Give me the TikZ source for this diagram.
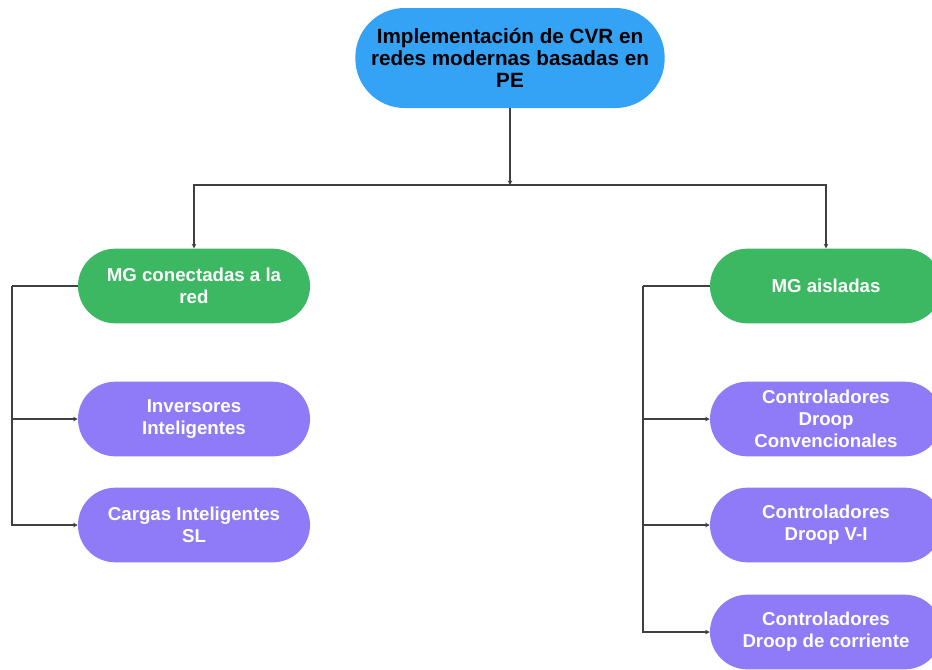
\documentclass[tikz,border=0pt]{standalone}
\usepackage{fontspec}
\setmainfont{Liberation Sans}
\usetikzlibrary{calc, positioning}
\usetikzlibrary{arrows.meta}
\definecolor{topblue}{HTML}{35A3F5}
\definecolor{mggreen}{HTML}{3BB861}
\definecolor{leafpurple}{HTML}{8F7AF8}
\definecolor{linegray}{HTML}{404040}

\begin{document}
\begin{tikzpicture}[x=0.75pt,y=-0.75pt,
  box/.style={rectangle, rounded corners=28pt, minimum width=174pt, minimum height=56pt,
    align=center, inner sep=2pt, text=white, font=\bfseries\fontsize{14}{16.5}\selectfont},
  link/.style={draw=linegray, line width=0.8pt, -{Stealth[length=3.5pt,width=3.5pt]}},
  plain/.style={draw=linegray, line width=0.8pt}]
\useasboundingbox (0,0) rectangle (932,669);
\def\lbar{12}
\def\rbar{643}

% main topic
\node[box, fill=topblue, text=black, minimum width=232pt, minimum height=75pt,
  rounded corners=37pt, font=\bfseries\fontsize{15.5}{16.2}\selectfont] (top) at (510,58)
  {Implementación de CVR en\\redes modernas basadas en\\PE};

% the two kinds of microgrid
\node[box, fill=mggreen] (mgred) at (194,286) {MG conectadas a la\\red};
\node[box, fill=mggreen] (mgais) at (826,286) {MG aisladas};

% left leaves
\node[box, fill=leafpurple] (inv) at (194,419) {Inversores\\Inteligentes};
\node[box, fill=leafpurple] (cargas) at (194,525) {Cargas Inteligentes\\SL};

% right leaves
\node[box, fill=leafpurple] (conv) at (826,419) {Controladores\\Droop\\Convencionales};
\node[box, fill=leafpurple] (vi) at (826,525) {Controladores\\Droop V-I};
\node[box, fill=leafpurple] (corr) at (826,632) {Controladores\\Droop de corriente};

\coordinate (split) at (510,185);
\coordinate (lcorner) at (\lbar,286);
\coordinate (rcorner) at (\rbar,286);

\draw[link] (top) -- (split);
\draw[link] (split) -| (mgred);
\draw[link] (split) -| (mgais);

\draw[plain] (mgred.west) -- (lcorner);
\draw[link] (lcorner) |- (inv.west);
\draw[link] (lcorner) |- (cargas.west);

\draw[plain] (mgais.west) -- (rcorner);
\draw[link] (rcorner) |- (conv.west);
\draw[link] (rcorner) |- (vi.west);
\draw[link] (rcorner) |- (corr.west);
\end{tikzpicture}
\end{document}
